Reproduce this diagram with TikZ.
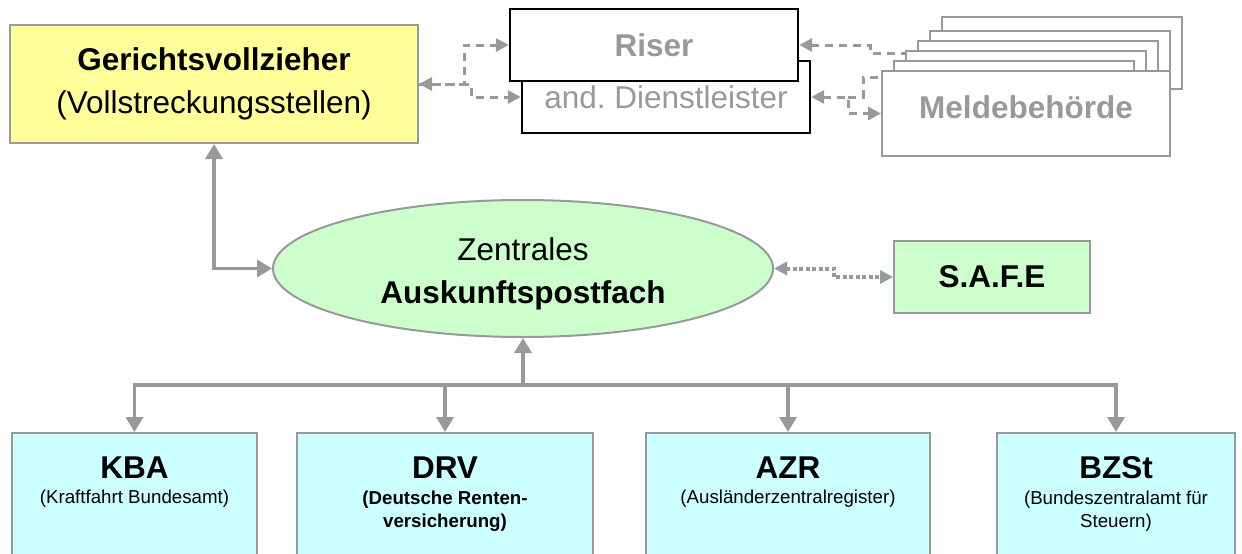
\documentclass[tikz,border=0pt]{standalone}
\usepackage{fontspec}
\setmainfont{Liberation Sans}
\usetikzlibrary{shapes.geometric,arrows.meta}
\definecolor{lgray}{HTML}{999999}
\definecolor{yel}{HTML}{FFFF99}
\definecolor{grn}{HTML}{CCFFCC}
\definecolor{cyn}{HTML}{CCFFFF}
\begin{document}
\begin{tikzpicture}[x=1pt,y=-1pt,
  box/.style={draw=lgray, line width=2pt, rectangle, inner sep=0pt},
  svc/.style={draw=black, line width=2.4pt, fill=white, rectangle, inner sep=0pt,
    minimum width=288pt, minimum height=72pt, text=lgray, font=\fontsize{31.5}{43}\selectfont},
  stackbox/.style={draw=lgray, line width=2pt, fill=white, rectangle, inner sep=0pt,
    minimum width=240pt, minimum height=72pt},
  big/.style={font=\fontsize{31.5}{43}\selectfont, align=center, inner sep=0pt},
  small/.style={font=\fontsize{18.7}{23.5}\selectfont, align=center, inner sep=0pt},
  sol/.style={draw=lgray, line width=3.6pt},
  soltip/.style={-{Triangle[length=15pt,width=17pt]}},
  soltips/.style={{Triangle[length=15pt,width=17pt]}-{Triangle[length=15pt,width=17pt]}},
  dsh/.style={draw=lgray, line width=3pt, dash pattern=on 8pt off 6pt},
  dtip/.style={-{Triangle[length=13pt,width=13pt]}},
  dtips/.style={{Triangle[length=13pt,width=13pt]}-{Triangle[length=13pt,width=13pt]}},
  dot/.style={draw=lgray, line width=4pt, dash pattern=on 4pt off 2.5pt},
]
\useasboundingbox (0,0) rectangle (1242,554);
\fill[white] (0,0) rectangle (1242,554);
\begin{scope}
\clip (0,0) rectangle (1242,554);

% Gerichtsvollzieher
\node[box, fill=yel, minimum width=408pt, minimum height=118pt] (gv) at (214,84) {};
\node[big] (gvT) at (214,84) {\textbf{Gerichtsvollzieher}\\(Vollstreckungsstellen)};

% Dienstleister (behind) and Riser
\node[svc] (dienst) at (666,97) {and.\ Dienstleister};
\node[svc, font=\fontsize{31.5}{43}\selectfont\bfseries] (riser) at (654,45) {Riser};

% Meldebehoerde stack
\node[stackbox] (m6) at (1062,53) {};
\node[stackbox] (m5) at (1050,67) {};
\node[stackbox] (m4) at (1038,77) {};
\node[stackbox] (m3) at (1026,87) {};
\node[stackbox] (m2) at (1014,97) {};
\node[stackbox, minimum width=288pt, minimum height=85pt] (melde) at (1026,113.5) {};
\node[big, text=lgray] (meldeT) at (1026,107) {\textbf{Meldebehörde}};

% Zentrales Auskunftspostfach
\node[ellipse, draw=lgray, line width=2pt, fill=grn, minimum width=500pt, minimum height=137pt, inner sep=0pt] (zap) at (523,268.5) {};
\node[big] (zapT) at (523,274) {Zentrales\\\textbf{Auskunftspostfach}};

% S.A.F.E
\node[box, fill=grn, minimum width=196pt, minimum height=72pt, big] (safe) at (992,277) {\textbf{S.A.F.E}};

% bottom boxes
\node[box, fill=cyn, minimum width=245pt, minimum height=130pt] (kba) at (134.5,498) {};
\node[box, fill=cyn, minimum width=296pt, minimum height=130pt] (drv) at (445,498) {};
\node[box, fill=cyn, minimum width=284pt, minimum height=130pt] (azr) at (788,498) {};
\node[box, fill=cyn, minimum width=238pt, minimum height=130pt] (bzst) at (1116,498) {};

\node[big] (kbaT) at (134.5,468) {\textbf{KBA}};
\node[small] (kbaS) at (134.5,499) {(Kraftfahrt Bundesamt)};
\node[big] (drvT) at (445,468) {\textbf{DRV}};
\node[small, font=\fontsize{18.7}{23.5}\selectfont\bfseries] (drvS) at (445,511) {(Deutsche Renten-\\versicherung)};
\node[big] (azrT) at (788,468) {\textbf{AZR}};
\node[small] (azrS) at (788,499) {(Ausländerzentralregister)};
\node[big] (bzstT) at (1116,468) {\textbf{BZSt}};
\node[small] (bzstS) at (1116,511) {(Bundeszentralamt für\\Steuern)};

% solid connectors
\draw[sol, soltips] (gv.south) |- (zap.west);
\coordinate (bus) at (523,385);
\draw[sol, soltip] (bus) -- (zap.south);
\draw[sol, soltip] (bus) -| (kba.north);
\draw[sol, soltip] (bus) -| (drv.north);
\draw[sol, soltip] (bus) -| (azr.north);
\draw[sol, soltip] (bus) -| (bzst.north);

% dotted connector to S.A.F.E
\draw[dot, dtips] (zap.east) -- ++(60,0) |- (safe.west);

% dashed connectors (top)
\draw[dsh, dtips] (gv.east) -- ++(45,0) |- (riser.west);
\draw[dsh, dtip] (gv.east) -- ++(52,0) |- (dienst.west);
\coordinate (mR) at (906,53);
\draw[dsh, {Triangle[length=13pt,width=13pt]}-] (riser.east) -- (870,45) |- (mR);
\draw[dsh, dtips] (dienst.east) -- ++(37,0) |- (melde.west);
\coordinate (mD) at (882,77);
\draw[dsh] (dienst.east) ++(37,0) -- (863,97) |- (mD);
\end{scope}
\end{tikzpicture}
\end{document}
